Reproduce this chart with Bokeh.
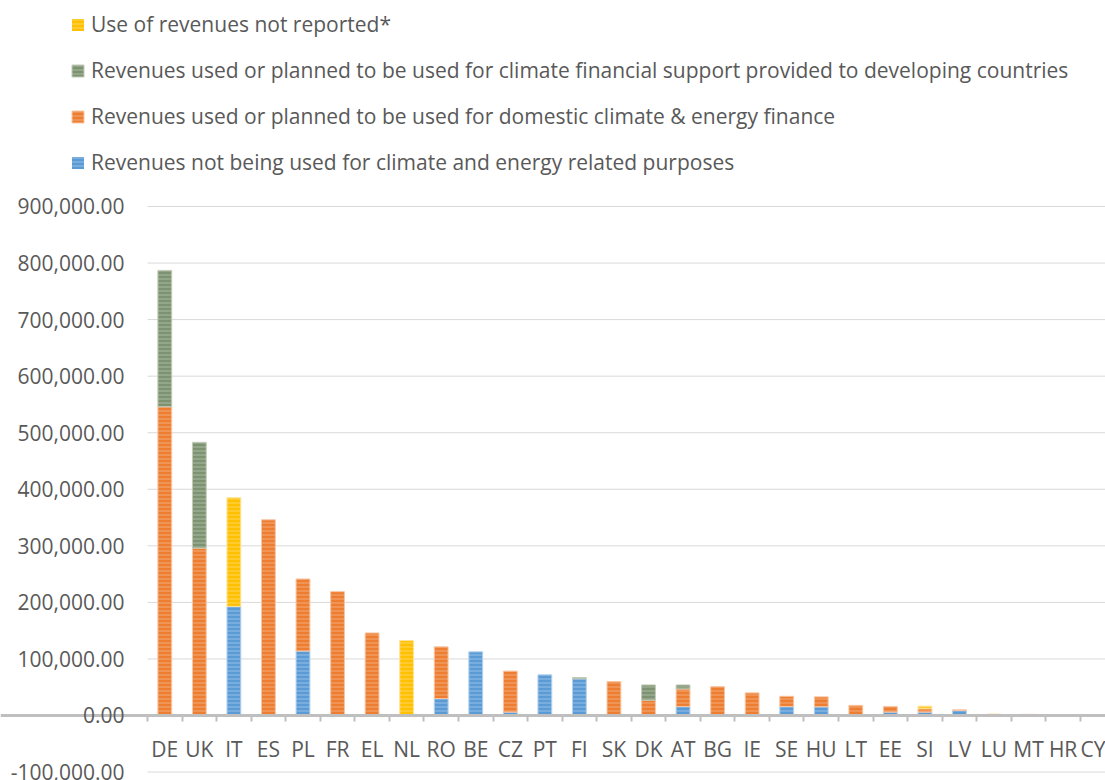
from bokeh.plotting import figure
from bokeh.models import (Range1d, FixedTicker, NumeralTickFormatter, Legend, LegendItem,
                          ColumnDataSource)
from bokeh.embed import file_html
from bokeh.resources import INLINE

# EU ETS auction revenues by member state (EUR thousand)
countries = ["DE", "UK", "IT", "ES", "PL", "FR", "EL", "NL", "RO", "BE", "CZ", "PT", "FI", "SK",
             "DK", "AT", "BG", "IE", "SE", "HU", "LT", "EE", "SI", "LV", "LU", "MT", "HR", "CY"]

not_climate = [0, 0, 193000, 0, 114000, 0, 0, 0, 30000, 112500, 6000, 72000, 65000, 0,
               0, 16000, 0, 0, 16000, 15500, 0, 6000, 6000, 9000, 0, 0, 0, 0]
domestic = [546000, 296000, 0, 346000, 127500, 219000, 146000, 0, 91500, 0, 72500, 0, 0, 60000,
            27000, 31000, 51000, 40000, 18000, 17500, 18000, 10000, 6000, 1000, 0, 2000, 500, 300]
international = [241000, 187000, 0, 0, 0, 0, 0, 0, 0, 0, 0, 0, 2000, 0,
                 27000, 7000, 0, 0, 0, 0, 0, 0, 0, 0, 0, 0, 0, 0]
not_reported = [0, 0, 192000, 0, 0, 0, 0, 132500, 0, 0, 0, 0, 0, 0,
                0, 0, 0, 0, 0, 0, 0, 0, 4500, 0, 2500, 0, 0, 0]

y_ticks = [-100000, 0, 100000, 200000, 300000, 400000, 500000, 600000, 700000, 800000, 900000]

series = ["not_climate", "domestic", "international", "not_reported"]
labels = {
    "not_climate": "Revenues not being used for climate and energy related purposes",
    "domestic": "Revenues used or planned to be used for domestic climate & energy finance",
    "international": "Revenues used or planned to be used for climate financial support provided to developing countries",
    "not_reported": "Use of revenues not reported*",
}
fills = {"not_climate": "#5B9BD5", "domestic": "#ED7D31",
         "international": "#7D9270", "not_reported": "#FFC000"}
edges = {"not_climate": "#B4D1EC", "domestic": "#F8C6A4",
         "international": "#C2CBB9", "not_reported": "#FFE39A"}

data = dict(x=list(range(len(countries))), not_climate=not_climate, domestic=domestic,
            international=international, not_reported=not_reported)
# outline only the segments that actually hold a value
for s in series:
    data[s + "_edge"] = [1.0 if v > 0 else 0.0 for v in data[s]]
source = ColumnDataSource(data)

TEXT = "#595959"
FONT = "Open Sans"
FS = "21px"

X_START, X_END = -4.755, 27.227
Y_START, Y_END = -114931, 1264234

p = figure(width=1105, height=780, output_backend="svg", toolbar_location=None,
           x_range=Range1d(X_START, X_END), y_range=Range1d(Y_START, Y_END),
           min_border_left=0, min_border_right=0, min_border_top=0, min_border_bottom=0)
p.outline_line_color = None
p.background_fill_color = "white"
p.border_fill_color = "white"
p.xgrid.grid_line_color = None
p.ygrid.grid_line_color = None

# horizontal gridlines across the category area
p.segment(x0=-0.5, x1=X_END, y0=y_ticks, y1=y_ticks, line_color="#D9D9D9", line_width=1)

renderers = p.vbar_stack(series, x="x", width=0.4, source=source,
                         fill_color=[fills[s] for s in series],
                         line_color=[edges[s] for s in series],
                         line_alpha=[s + "_edge" for s in series], line_width=1,
                         hatch_pattern="horizontal_line",
                         hatch_color="white", hatch_alpha=0.3,
                         hatch_scale=4, hatch_weight=1.2)

# category axis drawn along the zero line
xa = p.xaxis[0]
xa.fixed_location = 0
xa.ticker = FixedTicker(ticks=list(range(len(countries))),
                        minor_ticks=[i - 0.5 for i in range(len(countries) + 1)])
xa.major_label_overrides = {i: c for i, c in enumerate(countries)}
xa.axis_line_color = "#BFBFBF"
xa.axis_line_width = 3
xa.major_tick_line_color = None
xa.major_tick_out = 0
xa.major_tick_in = 0
xa.minor_tick_line_color = "#BFBFBF"
xa.minor_tick_line_width = 2
xa.minor_tick_out = 6
xa.minor_tick_in = 0
xa.major_label_standoff = 14
xa.major_label_text_font = FONT
xa.major_label_text_font_size = FS
xa.major_label_text_color = TEXT

# value axis pinned to the left edge of the category area
ya = p.yaxis[0]
ya.fixed_location = -0.5
ya.ticker = FixedTicker(ticks=y_ticks)
ya.formatter = NumeralTickFormatter(format="0,0.00")
ya.axis_line_color = None
ya.major_tick_line_color = None
ya.major_tick_out = 0
ya.major_tick_in = 0
ya.minor_tick_line_color = None
ya.major_label_standoff = 23
ya.major_label_text_font = FONT
ya.major_label_text_font_size = FS
ya.major_label_text_color = TEXT

items = [LegendItem(label=labels[s], renderers=[r]) for s, r in zip(series, renderers)]
legend = Legend(items=items[::-1], location=(70, 603), orientation="vertical",
                padding=0, margin=0, spacing=16, label_height=30, glyph_width=15,
                glyph_height=15, label_standoff=6, border_line_color=None,
                background_fill_alpha=0, label_text_font=FONT,
                label_text_font_size=FS, label_text_color=TEXT)
p.add_layout(legend, "center")

open("out.html", "w").write(file_html(p, INLINE))
